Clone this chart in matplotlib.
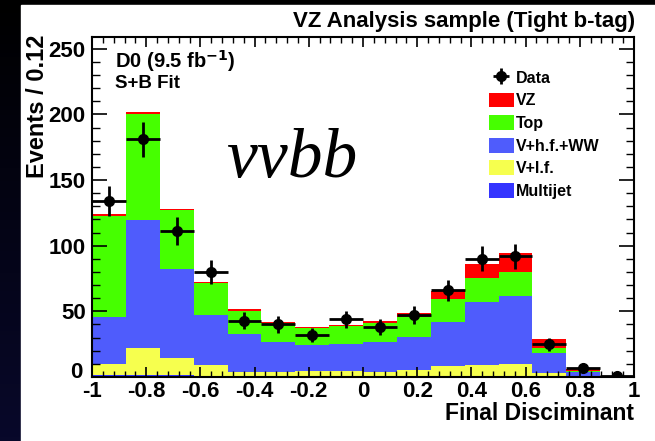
import matplotlib
matplotlib.use('Agg')
import matplotlib.pyplot as plt
import numpy as np
from matplotlib.patches import Rectangle, Patch
from matplotlib.ticker import MultipleLocator, FuncFormatter

# binning of the final discriminant (16 bins in [-1,1])
edges = np.linspace(-1, 1, 17)

# stack components, events per bin
multijet = [1.5, 1.5, 1.5, 1.0, 0.8, 0.8, 0.8, 0.8, 0.8, 0.8, 0.8, 0.8, 0.8, 0.5, 0.3, 0.1]
vlf      = [8.1, 20.4, 13.2, 8.1, 3.2, 2.7, 4.0, 4.0, 3.2, 4.5, 7.6, 8.1, 9.1, 2.3, 0.3, 0.1]
vhf_ww   = [36.4, 98.0, 67.3, 37.9, 28.8, 23.2, 19.6, 20.2, 22.4, 24.9, 33.3, 48.0, 52.1, 15.7, 3.2, 0.2]
top      = [77.0, 80.5, 45.0, 24.4, 17.7, 14.7, 12.7, 13.9, 14.5, 15.3, 17.7, 18.8, 17.8, 3.4, 1.0, 0.1]
vz       = [1.0, 1.5, 1.0, 1.2, 1.1, 0.7, 0.8, 0.4, 2.0, 3.0, 6.4, 10.2, 14.4, 7.1, 1.3, 0.1]
data     = [134, 181, 111, 80, 43, 40, 32, 44, 38, 47, 66, 90, 92, 25, 7, 1]

comp_names  = ['Multijet', 'V+l.f.', 'V+h.f.+WW', 'Top', 'VZ']
comp_values = [multijet, vlf, vhf_ww, top, vz]
comp_colors = ['#3434ff', '#f6ff4e', '#4f5cfc', '#46ff00', '#ff0000']

W, H = 655, 441
fig = plt.figure(figsize=(W / 100, H / 100), dpi=100)
fig.patch.set_facecolor('black')

# dark backdrop with a navy tint at the bottom, white page on top
bg = fig.add_axes([0, 0, 1, 1])
grad = np.linspace(0, 1, 100)[:, None]
bg.imshow(grad, cmap=matplotlib.colors.LinearSegmentedColormap.from_list(
    'bg', ['#000000', '#08082a']), aspect='auto', extent=[0, 1, 0, 1])
bg.add_patch(Rectangle((21 / W, 0), 1, 1 - 5 / H, color='white', zorder=3))
bg.set_xlim(0, 1); bg.set_ylim(0, 1)
bg.axis('off')

ax = fig.add_axes([92 / W, (H - 377) / H, 542 / W, (377 - 37) / H])

fam = ['Liberation Sans', 'DejaVu Sans']
left = edges[:-1]
width = np.diff(edges)
bottom = np.zeros(16)
for name, vals, c in zip(comp_names, comp_values, comp_colors):
    ax.bar(left, vals, width=width, bottom=bottom, align='edge', color=c, linewidth=0, label=name)
    bottom = bottom + np.array(vals)

centers = 0.5 * (edges[1:] + edges[:-1])
err = ax.errorbar(centers, data, yerr=np.sqrt(data), xerr=width / 2, fmt='o', color='black',
                  ms=7, elinewidth=2, capsize=0, label='Data', zorder=5)

ax.set_xlim(-1, 1)
ax.set_ylim(0, 259)
ax.xaxis.set_major_locator(MultipleLocator(0.2))
ax.xaxis.set_minor_locator(MultipleLocator(0.04))
ax.yaxis.set_major_locator(MultipleLocator(50))
ax.yaxis.set_minor_locator(MultipleLocator(10))
# the "0" of the y axis is written separately a bit higher, clear of the "-1"
ax.yaxis.set_major_formatter(FuncFormatter(lambda v, p: '' if v == 0 else '%d' % v))
ax.tick_params(axis='x', which='major', direction='in', length=7.5, width=1.2, top=True, pad=3)
ax.tick_params(axis='x', which='minor', direction='in', length=4, width=1, top=True)
ax.tick_params(axis='y', which='major', direction='in', length=11, width=1.2, right=True, pad=4.5)
ax.tick_params(axis='y', which='minor', direction='in', length=5.5, width=1, right=True)
for s in ax.spines.values():
    s.set_linewidth(1.5)

ax.set_xticks(np.arange(-1, 1.01, 0.2))
ax.set_xticklabels(['-1', '-0.8', '-0.6', '-0.4', '-0.2', '0', '0.2', '0.4', '0.6', '0.8', '1'])
for lab in ax.get_xticklabels() + ax.get_yticklabels():
    lab.set_family(fam)
    lab.set_fontweight('bold')
    lab.set_fontsize(16)
ax.annotate('0', xy=(0, 0), xycoords='axes fraction', xytext=(-7, 3), textcoords='offset points',
            ha='right', va='center', fontsize=16, fontweight='bold', family=fam)

fig.text(635 / W, 1 - 22 / H, 'VZ Analysis sample (Tight b-tag)', ha='right', va='center',
         fontsize=16, fontweight='bold', family=fam)
fig.text(634 / W, 1 - 413 / H, 'Final Disciminant', ha='right', va='center',
         fontsize=16.5, fontweight='bold', family=fam)
fig.text(37 / W, 1 - 35 / H, 'Events / 0.12', ha='center', va='top', rotation=90,
         fontsize=17, fontweight='bold', family=fam)
fig.text(115 / W, 1 - 61 / H, r'D0 (9.5 fb$^{\mathbf{-1}}$)', ha='left', va='center',
         fontsize=14.5, fontweight='bold', family=fam)
fig.text(115 / W, 1 - 84 / H, 'S+B Fit', ha='left', va='center',
         fontsize=13.5, fontweight='bold', family=fam)
fig.text(226 / W, 1 - 160 / H, 'vvbb', ha='left', va='center', fontsize=50,
         style='italic', family=['Liberation Serif', 'DejaVu Serif'])

handles = [err] + [Patch(facecolor=c, edgecolor='none') for c in comp_colors[::-1]]
labels = ['Data'] + comp_names[::-1]
leg = ax.legend(handles, labels, loc='upper left', bbox_to_anchor=(489 / W, 1 - 70 / H),
                bbox_transform=fig.transFigure, frameon=False, borderpad=0, borderaxespad=0,
                handlelength=1.55, handleheight=1.05, handletextpad=0.15, labelspacing=0.42,
                prop={'family': fam, 'weight': 'bold', 'size': 11.5})

fig.savefig('out.png', dpi=100, facecolor=fig.get_facecolor())
